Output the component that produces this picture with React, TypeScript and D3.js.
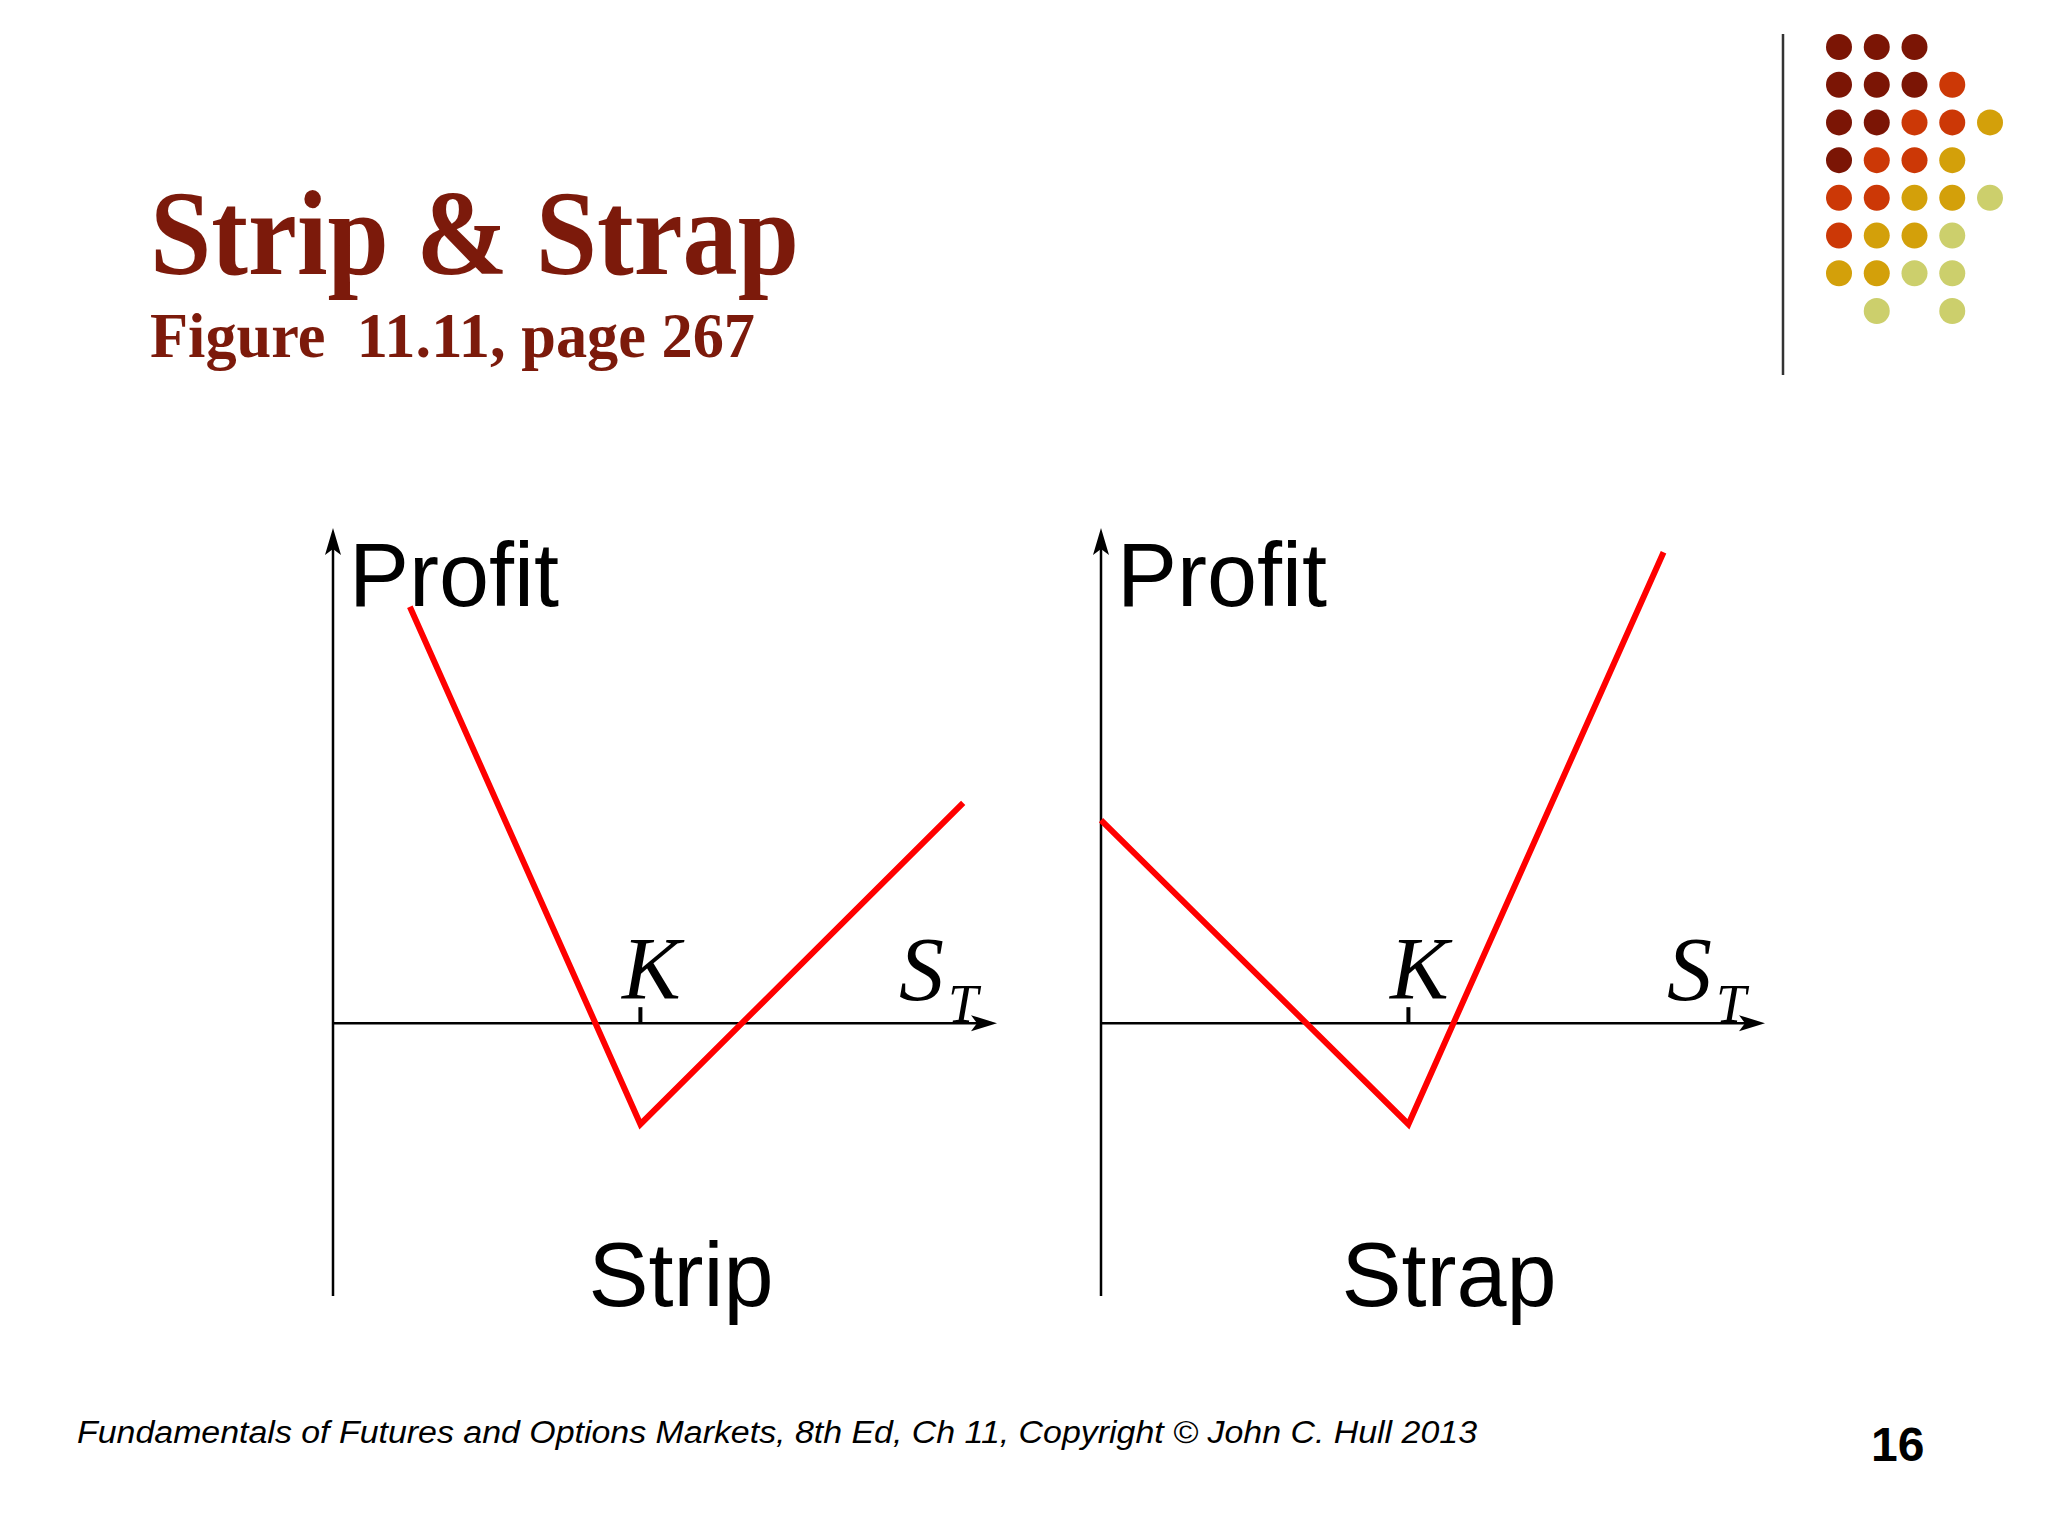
import React from "react";
import * as d3 from "d3";

// ---- data ----
const panelNames = ["Strip", "Strap"];
const strikeK = 50;
const stripS = [12.5, 50, 102.5];
const stripProfit = [41.2, -10, 21.8];
const strapS = [0, 50, 91.5];
const strapProfit = [20.1, -10, 46.6];
const xDomain = [0, 108];
const yDomain = [-27, 49];

const titleText = "Strip & Strap";
const subtitleText = "Figure  11.11, page 267";
const footerText =
  "Fundamentals of Futures and Options Markets, 8th Ed, Ch 11, Copyright \u00A9 John C. Hull 2013";
const pageNumber = "16";

// dot decoration: rows of color codes (0 none, 1 dark, 2 orange, 3 gold, 4 light)
const dotRows = [
  [1, 1, 1, 0, 0],
  [1, 1, 1, 2, 0],
  [1, 1, 2, 2, 3],
  [1, 2, 2, 3, 0],
  [2, 2, 3, 3, 4],
  [2, 3, 3, 4, 0],
  [3, 3, 4, 4, 0],
  [0, 4, 0, 4, 0],
];
const dotColors = ["none", "#7b1505", "#cc3806", "#d3a00a", "#cccf6c"];

const W = 2048;
const H = 1536;
const titleColor = "#7c1a0b";

const panels = [
  { x0: 333, S: stripS, P: stripProfit, name: panelNames[0] },
  { x0: 1101, S: strapS, P: strapProfit, name: panelNames[1] },
];

const yScale = d3.scaleLinear().domain(yDomain).range([1296, 528]);

function Panel({ x0, S, P, name }: { x0: number; S: number[]; P: number[]; name: string }) {
  const xScale = d3.scaleLinear().domain(xDomain).range([x0, x0 + 664]);
  const pts: [number, number][] = S.map((s, i) => [s, P[i]]);
  const line = d3
    .line<[number, number]>()
    .x((d) => xScale(d[0]))
    .y((d) => yScale(d[1]));
  const y0 = yScale(0);
  const xEnd = xScale(xDomain[1]);
  const yTop = yScale(yDomain[1]);
  const yBot = yScale(yDomain[0]);
  const kx = xScale(strikeK);
  return (
    <g>
      {/* axes */}
      <line x1={x0} y1={yBot} x2={x0} y2={yTop + 18} stroke="#000" strokeWidth={2.5} />
      <path
        d={`M${x0},${yTop} L${x0 + 8},${yTop + 27} L${x0},${yTop + 21} L${x0 - 8},${yTop + 27} Z`}
        fill="#000"
      />
      <line x1={x0} y1={y0} x2={xEnd - 18} y2={y0} stroke="#000" strokeWidth={2.5} />
      <path
        d={`M${xEnd},${y0} L${xEnd - 26},${y0 - 8} L${xEnd - 20},${y0} L${xEnd - 26},${y0 + 8} Z`}
        fill="#000"
      />
      <line x1={kx} y1={y0} x2={kx} y2={y0 - 16} stroke="#000" strokeWidth={4} />
      {/* payoff */}
      <path d={line(pts) || ""} fill="none" stroke="#ff0000" strokeWidth={6} strokeLinejoin="miter" />
      {/* labels */}
      <text x={x0 + 16} y={606} fontFamily="Liberation Sans, Arial, sans-serif" fontSize={90} fill="#000">
        Profit
      </text>
      <text
        x={kx + 11}
        y={998}
        textAnchor="middle"
        fontFamily="Liberation Serif, Times New Roman, serif"
        fontStyle="italic"
        fontSize={88}
        fill="#000"
      >
        K
      </text>
      <text
        x={x0 + 566}
        y={1000}
        fontFamily="Liberation Serif, Times New Roman, serif"
        fontStyle="italic"
        fontSize={90}
        fill="#000"
      >
        S
      </text>
      <text
        x={x0 + 615}
        y={1022}
        fontFamily="Liberation Serif, Times New Roman, serif"
        fontStyle="italic"
        fontSize={54}
        fill="#000"
      >
        T
      </text>
      <text
        x={x0 + 348}
        y={1306}
        textAnchor="middle"
        fontFamily="Liberation Sans, Arial, sans-serif"
        fontSize={90}
        fill="#000"
      >
        {name}
      </text>
    </g>
  );
}

export default function App() {
  const colX = d3.scaleLinear().domain([0, 4]).range([1839, 1990]);
  const rowY = d3.scaleLinear().domain([0, 7]).range([47, 311]);
  return (
    <svg
      width={W}
      height={H}
      viewBox={`0 0 ${W} ${H}`}
      style={{ position: "absolute", left: 0, top: 0, background: "#fff" }}
    >
      <rect x={0} y={0} width={W} height={H} fill="#fff" />
      <text
        x={150}
        y={274}
        fontFamily="Liberation Serif, Times New Roman, serif"
        fontWeight="bold"
        fontSize={120}
        fill={titleColor}
        textLength={649}
        lengthAdjust="spacingAndGlyphs"
      >
        {titleText}
      </text>
      <text
        x={150}
        y={357}
        fontFamily="Liberation Serif, Times New Roman, serif"
        fontWeight="bold"
        fontSize={64}
        fill={titleColor}
        textLength={605}
        lengthAdjust="spacingAndGlyphs"
        style={{ whiteSpace: "pre" }}
      >
        {subtitleText}
      </text>
      <line x1={1783} y1={34} x2={1783} y2={375} stroke="#333" strokeWidth={2.5} />
      {dotRows.map((row, r) =>
        row.map((c, ci) =>
          c ? <circle key={`${r}-${ci}`} cx={colX(ci)} cy={rowY(r)} r={13} fill={dotColors[c]} /> : null
        )
      )}
      {panels.map((p) => (
        <Panel key={p.name} {...p} />
      ))}
      <text
        x={77}
        y={1443}
        fontFamily="Liberation Sans, Arial, sans-serif"
        fontStyle="italic"
        fontSize={31}
        fill="#000"
        textLength={1400}
        lengthAdjust="spacingAndGlyphs"
      >
        {footerText}
      </text>
      <text
        x={1871}
        y={1461}
        fontFamily="Liberation Sans, Arial, sans-serif"
        fontWeight="bold"
        fontSize={48}
        fill="#000"
      >
        {pageNumber}
      </text>
    </svg>
  );
}
